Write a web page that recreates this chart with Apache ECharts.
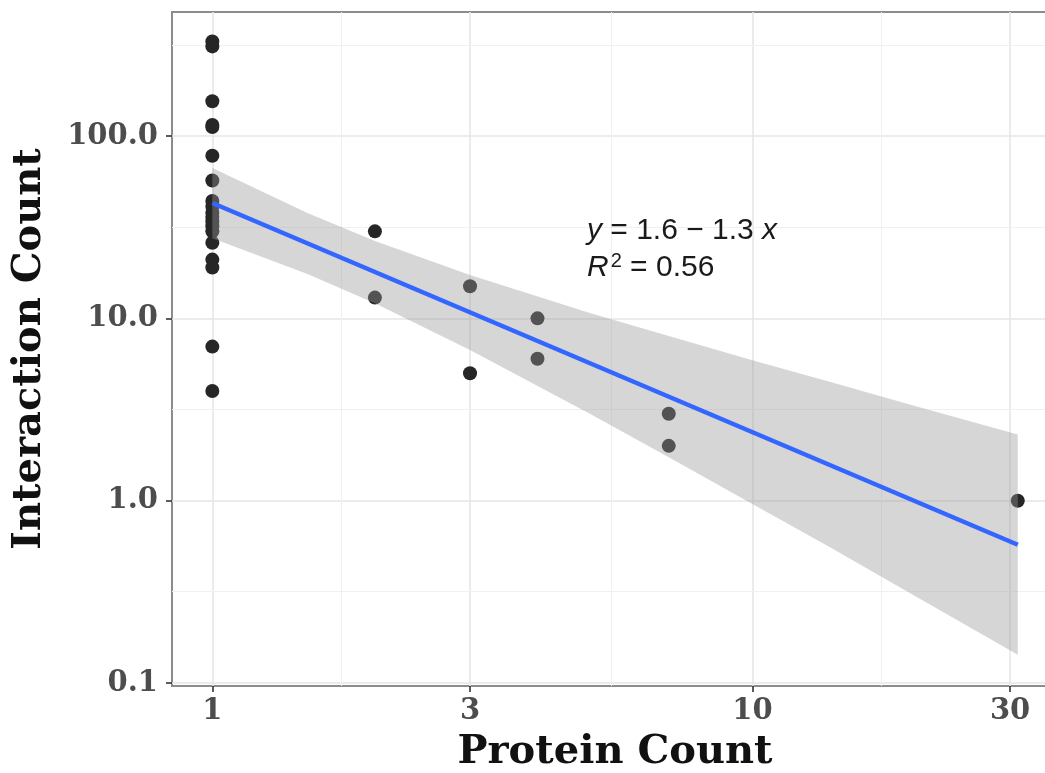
<!DOCTYPE html>
<html>
<head>
<meta charset="utf-8">
<title>Interaction Count vs Protein Count</title>
<script src="https://cdn.jsdelivr.net/npm/echarts@6/dist/echarts.min.js"></script>
<style>
  html, body { margin: 0; padding: 0; background: #ffffff; }
  #chart { width: 1045px; height: 773px; }
</style>
</head>
<body>
<div id="chart"></div>
<script>
// Observations: number of proteins per complex and its interaction count
const proteinCount = [
  1, 1, 1, 1, 1, 1, 1, 1, 1, 1, 1, 1, 1, 1, 1, 1, 1, 1, 1,
  2, 2, 3, 3, 4, 4, 7, 7, 31
];
const interactionCount = [
  330, 310, 155, 115, 112, 78, 57, 44, 41, 38, 36, 34, 32, 30, 26, 21, 19, 7, 4,
  30, 13, 15, 5, 10, 6, 3, 2, 1
];

// Tick positions and labels on the two log axes
const xTicks = [1, 3, 10, 30];
const xTickLabels = ['1', '3', '10', '30'];
const yTicks = [0.1, 1, 10, 100];
const yTickLabels = ['0.1', '1.0', '10.0', '100.0'];

// Fitted log-log regression line (end points)
const fitX = [1, 31];
const fitY = [42.9, 0.574];

// 95% confidence band around the fit
const bandX    = [1,    1.5,  2,    3,    5,    7,    10,   14,   20,   31];
const bandLow  = [27.5, 17.5, 12.1, 6.7,  3.0,  1.73, 0.96, 0.55, 0.30, 0.143];
const bandHigh = [66.7, 37.8, 26.6, 17.3, 10.7, 8.0,  5.9,  4.46, 3.31, 2.31];

// Axis extents (log scale)
const xRange = [0.842, 36.8];
const yRange = [0.0964, 478.6];

const SERIF = '"DejaVu Serif", "Liberation Serif", serif';
const SANS = '"Liberation Sans", Arial, sans-serif';

// minor grid lines sit halfway (in log space) between neighbouring ticks
function midBreaks(ticks) {
  const out = [];
  for (let i = 0; i < ticks.length - 1; i++) out.push(Math.sqrt(ticks[i] * ticks[i + 1]));
  return out;
}
const xMinor = midBreaks(xTicks);
const yMinor = midBreaks(yTicks).concat([Math.sqrt(yTicks[yTicks.length - 1] * yTicks[yTicks.length - 1] * 10)]);

const majorStyle = { color: '#e6e6e6', width: 1.6, type: 'solid' };
const minorStyle = { color: '#f0f0f0', width: 1, type: 'solid' };
const gridLines = [];
xTicks.forEach(v => gridLines.push({ xAxis: v, lineStyle: majorStyle }));
yTicks.forEach(v => gridLines.push({ yAxis: v, lineStyle: majorStyle }));
xMinor.forEach(v => gridLines.push({ xAxis: v, lineStyle: minorStyle }));
yMinor.forEach(v => gridLines.push({ yAxis: v, lineStyle: minorStyle }));

const points = proteinCount.map((x, i) => [x, interactionCount[i]]);
const fitLine = fitX.map((x, i) => [x, fitY[i]]);

const chart = echarts.init(document.getElementById('chart'), null, { renderer: 'canvas' });

chart.setOption({
  animation: false,
  backgroundColor: '#ffffff',
  grid: {
    left: 172, top: 12, width: 886, height: 674,
    outerBoundsMode: 'none',
    containLabel: false,
    show: true, borderColor: '#8c8c8c', borderWidth: 2, backgroundColor: 'transparent'
  },
  xAxis: {
    type: 'log',
    min: xRange[0], max: xRange[1],
    name: 'Protein Count',
    nameLocation: 'middle',
    nameGap: 47,
    nameTextStyle: { fontFamily: SERIF, fontWeight: 'bold', fontSize: 40, color: '#111' },
    axisLine: { show: false },
    splitLine: { show: false },
    minorSplitLine: { show: false },
    axisTick: { show: true, customValues: xTicks, length: 6, lineStyle: { color: '#333', width: 1.6 } },
    axisLabel: {
      customValues: xTicks, margin: 11,
      fontFamily: SERIF, fontWeight: 'bold', fontSize: 29, color: '#4d4d4d',
      formatter: v => xTickLabels[xTicks.indexOf(+v)] || ''
    }
  },
  yAxis: {
    type: 'log',
    min: yRange[0], max: yRange[1],
    name: 'Interaction Count',
    nameLocation: 'middle',
    nameGap: 122,
    nameTextStyle: { fontFamily: SERIF, fontWeight: 'bold', fontSize: 40, color: '#111' },
    axisLine: { show: false },
    splitLine: { show: false },
    minorSplitLine: { show: false },
    axisTick: { show: true, customValues: yTicks, length: 6, lineStyle: { color: '#333', width: 1.6 } },
    axisLabel: {
      customValues: yTicks, margin: 14,
      fontFamily: SERIF, fontWeight: 'bold', fontSize: 29, color: '#4d4d4d',
      formatter: v => {
        const i = yTicks.findIndex(t => Math.abs(t - v) / t < 1e-6);
        return i >= 0 ? yTickLabels[i] : '';
      }
    }
  },
  series: [
    {
      // panel grid
      type: 'scatter', name: 'grid', data: [], z: 1, silent: true,
      markLine: { z: 1, silent: true, symbol: 'none', label: { show: false }, animation: false, data: gridLines }
    },
    {
      type: 'scatter', name: 'observations', data: points, z: 2,
      symbol: 'circle', symbolSize: 14,
      itemStyle: { color: '#262626', opacity: 1 }
    },
    {
      type: 'custom', name: 'confidence band', z: 3, silent: true,
      data: [[bandX[0], bandLow[0]]],
      renderItem: (params, api) => {
        const pts = [];
        for (let i = 0; i < bandX.length; i++) pts.push(api.coord([bandX[i], bandHigh[i]]));
        for (let i = bandX.length - 1; i >= 0; i--) pts.push(api.coord([bandX[i], bandLow[i]]));
        return { type: 'polygon', shape: { points: pts }, style: { fill: 'rgba(153,153,153,0.4)' } };
      }
    },
    {
      type: 'line', name: 'fit', data: fitLine, z: 4, silent: true,
      symbol: 'none', lineStyle: { color: '#3366ff', width: 4.5 }
    }
  ],
  graphic: [
    {
      type: 'text', left: 587, top: 216, z: 10,
      style: {
        text: '{i|y} = 1.6 \u2212 1.3 {i|x}',
        rich: {
          i: { fontStyle: 'italic', fontFamily: SANS, fontSize: 30, fill: '#1a1a1a' }
        },
        font: '30px ' + SANS, fill: '#1a1a1a'
      }
    },
    {
      type: 'text', left: 587, top: 251, z: 10,
      style: {
        text: '{i|R}{s|2} = 0.56',
        rich: {
          i: { fontStyle: 'italic', fontFamily: SANS, fontSize: 30, fill: '#1a1a1a' },
          s: { fontFamily: SANS, fontSize: 20, fill: '#1a1a1a', verticalAlign: 'top', padding: [0, 0, 14, 2] }
        },
        font: '30px ' + SANS, fill: '#1a1a1a'
      }
    }
  ]
});
</script>
</body>
</html>
